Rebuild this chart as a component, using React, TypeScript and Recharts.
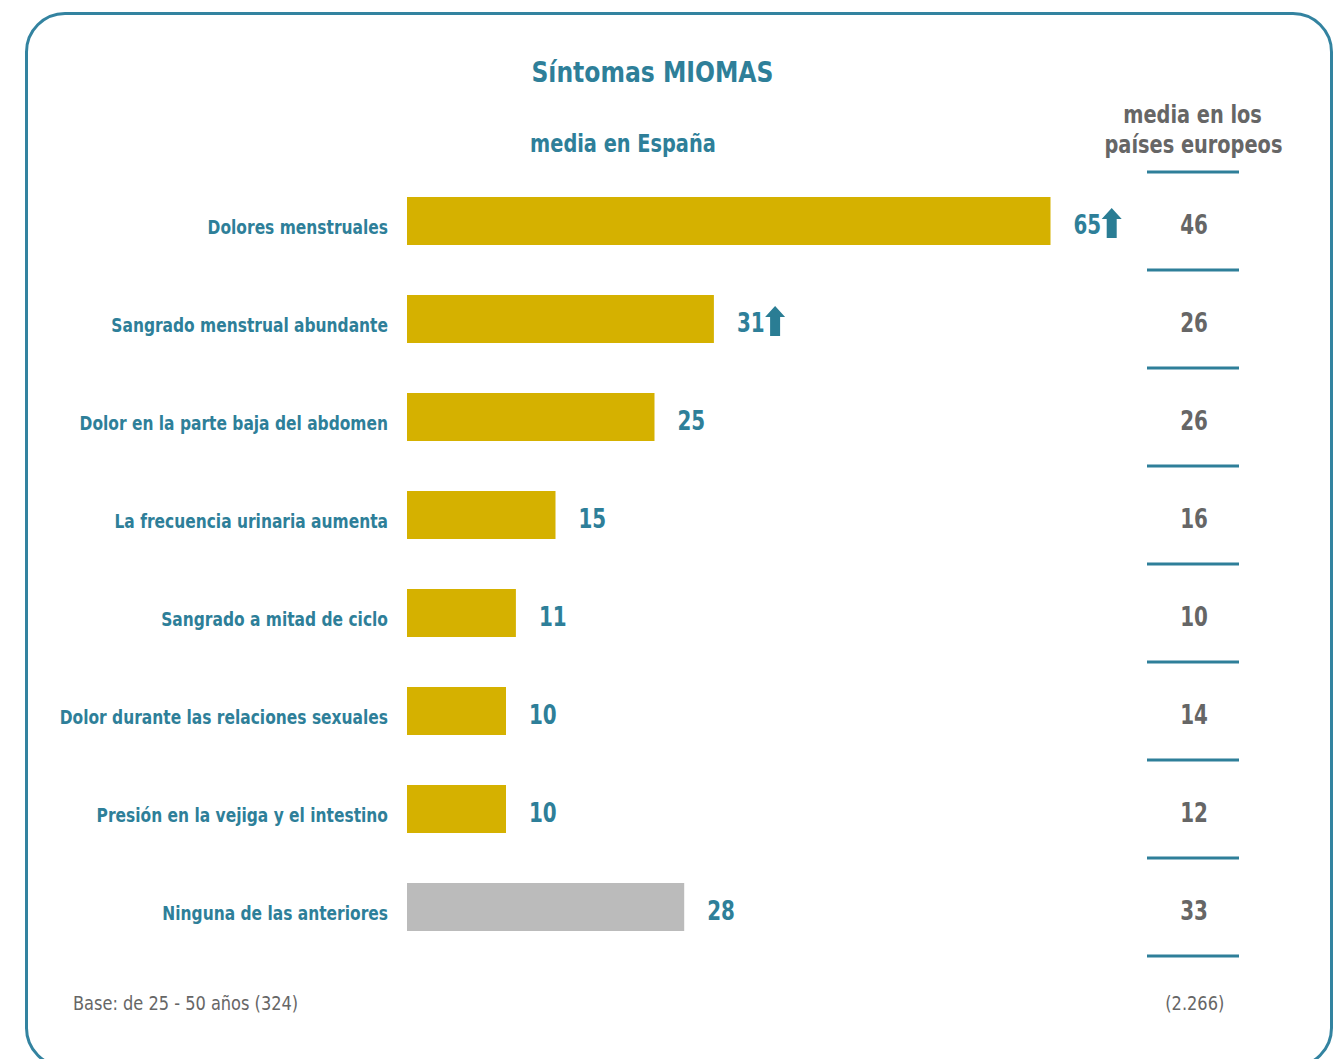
import React from "react";
import { ComposedChart, Bar, XAxis, YAxis, LabelList, Cell } from "recharts";

const categories = [
  "Dolores menstruales",
  "Sangrado menstrual abundante",
  "Dolor en la parte baja del abdomen",
  "La frecuencia urinaria aumenta",
  "Sangrado a mitad de ciclo",
  "Dolor durante las relaciones sexuales",
  "Presión en la vejiga y el intestino",
  "Ninguna de las anteriores",
];
const spainValues = [65, 31, 25, 15, 11, 10, 10, 28];
const europeValues = [46, 26, 26, 16, 10, 14, 12, 33];
const higherFlags = [true, true, false, false, false, false, false, false];
const barColors = ["#d5b100", "#d5b100", "#d5b100", "#d5b100", "#d5b100", "#d5b100", "#d5b100", "#bbbbbb"];

const data = categories.map((c, i) => ({
  name: c,
  spain: spainValues[i],
  europe: europeValues[i],
  up: higherFlags[i],
  color: barColors[i],
}));

const TEAL = "#2e7f99";
const GRAY = "#666666";
const FONT = "'DejaVu Sans Condensed', 'DejaVu Sans', sans-serif";

const W = 1342;
const H = 1059;
const EU_X = 1194;

const SText = (props: any) => {
  const { x, y, sx, children, ...rest } = props;
  return (
    <text transform={`translate(${x},${y}) scale(${sx},1)`} x={0} y={0} fontFamily={FONT} {...rest}>
      {children}
    </text>
  );
};

const CategoryTick = (props: any) => {
  const { x, y, payload } = props;
  return (
    <SText x={x - 11} y={y + 13} sx={0.86} textAnchor="end" fill={TEAL} fontSize={20} fontWeight={700}>
      {payload.value}
    </SText>
  );
};

const ValueLabel = (props: any) => {
  const { x, y, width, height, value, index } = props;
  const cy = y + height / 2;
  const tx = x + width + 23;
  const up = higherFlags[index];
  const textW = String(value).length * 13.1;
  const ax = tx + textW + 2;
  const gap = 24.9;
  return (
    <g>
      <SText x={tx} y={cy + 13} sx={0.82} fill={TEAL} fontSize={27} fontWeight={700} textAnchor="start">
        {value}
      </SText>
      {up && (
        <path
          d={`M${ax + 10},${cy - 13} L${ax + 20},${cy - 2} L${ax + 15},${cy - 2} L${ax + 15},${cy + 17} L${ax + 5},${cy + 17} L${ax + 5},${cy - 2} L${ax},${cy - 2} Z`}
          fill="#2a7d94"
        />
      )}
      <SText x={EU_X} y={cy + 13} sx={0.82} fill={GRAY} fontSize={27} fontWeight={700} textAnchor="middle">
        {europeValues[index]}
      </SText>
      <line x1={1147} x2={1239} y1={y - gap} y2={y - gap} stroke={TEAL} strokeWidth={3} />
      {index === categories.length - 1 && (
        <line
          x1={1147}
          x2={1239}
          y1={y + height + gap}
          y2={y + height + gap}
          stroke={TEAL}
          strokeWidth={3}
        />
      )}
    </g>
  );
};

const Scaled = ({ sx, children }: any) => (
  <span style={{ display: "inline-block", transform: `scaleX(${sx})`, transformOrigin: "center" }}>{children}</span>
);

export default function App() {
  return (
    <div
      style={{
        position: "absolute",
        left: 0,
        top: 0,
        width: W,
        height: H,
        overflow: "hidden",
        background: "#fff",
        fontFamily: FONT,
      }}
    >
      <div
        style={{
          position: "absolute",
          left: 25,
          top: 12,
          width: 1302,
          height: 1050,
          border: `3px solid #3383a0`,
          borderRadius: 40,
        }}
      />
      <div
        style={{
          position: "absolute",
          left: 452,
          width: 400,
          top: 53,
          textAlign: "center",
          color: TEAL,
          fontSize: 29,
          fontWeight: 700,
          lineHeight: "38px",
        }}
      >
        <Scaled sx={0.9}>Síntomas MIOMAS</Scaled>
      </div>
      <div
        style={{
          position: "absolute",
          left: 423,
          width: 400,
          top: 127,
          textAlign: "center",
          color: TEAL,
          fontSize: 25,
          fontWeight: 700,
          lineHeight: "34px",
        }}
      >
        <Scaled sx={0.86}>media en España</Scaled>
      </div>
      <div
        style={{
          position: "absolute",
          left: 1043,
          width: 300,
          top: 100,
          textAlign: "center",
          color: GRAY,
          fontSize: 25,
          fontWeight: 700,
          lineHeight: "30px",
        }}
      >
        <Scaled sx={0.86}>media en los</Scaled>
        <br />
        <Scaled sx={0.86}>países europeos</Scaled>
      </div>
      <div style={{ position: "absolute", left: 0, top: 0 }}>
        <ComposedChart
          width={W}
          height={H}
          data={data}
          layout="vertical"
          margin={{ top: 172, bottom: 103, left: 0, right: 143 }}
          barCategoryGap={0}
        >
          <XAxis type="number" domain={[0, 80]} hide />
          <YAxis
            type="category"
            dataKey="name"
            width={407}
            axisLine={false}
            tickLine={false}
            tick={<CategoryTick />}
            interval={0}
          />
          <Bar dataKey="spain" barSize={48} isAnimationActive={false}>
            {data.map((d, i) => (
              <Cell key={i} fill={d.color} />
            ))}
            <LabelList dataKey="spain" content={<ValueLabel />} />
          </Bar>
        </ComposedChart>
      </div>
      <div
        style={{
          position: "absolute",
          left: 73,
          top: 990,
          color: GRAY,
          fontSize: 20,
          lineHeight: "26px",
          transform: "scaleX(0.9)",
          transformOrigin: "left center",
        }}
      >
        Base: de 25 - 50 años (324)
      </div>
      <div
        style={{
          position: "absolute",
          left: 1095,
          width: 200,
          top: 990,
          textAlign: "center",
          color: GRAY,
          fontSize: 20,
          lineHeight: "26px",
        }}
      >
        <Scaled sx={0.9}>(2.266)</Scaled>
      </div>
    </div>
  );
}
